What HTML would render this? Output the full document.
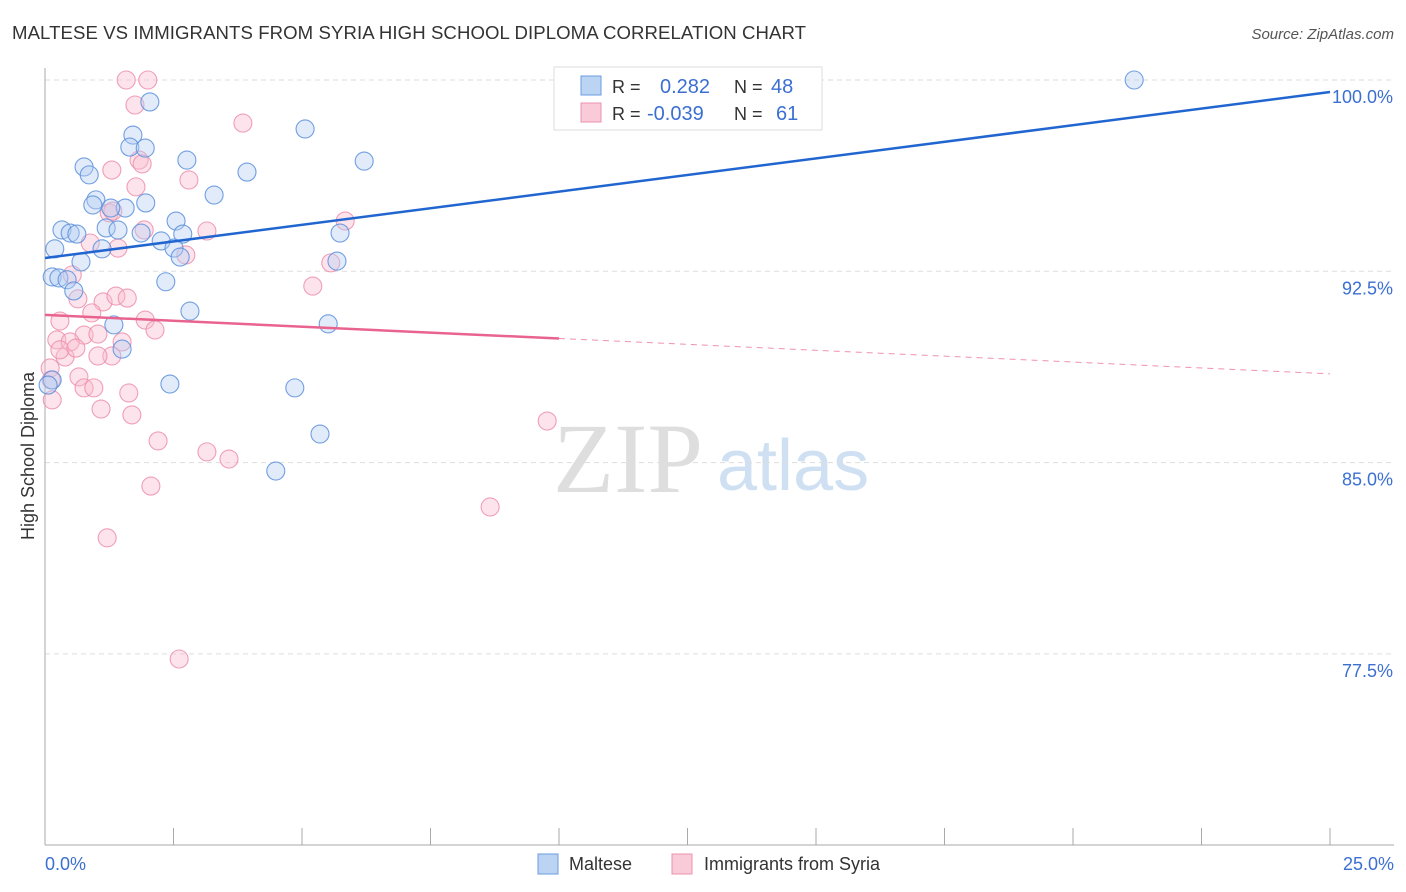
<!DOCTYPE html>
<html><head><meta charset="utf-8"><style>
body{margin:0;background:#fff;font-family:"Liberation Sans",sans-serif;}
svg{display:block}
</style></head><body>
<svg id="chart" width="1406" height="892">
<text x="12" y="39" font-size="18.6" fill="#333" textLength="794">MALTESE VS IMMIGRANTS FROM SYRIA HIGH SCHOOL DIPLOMA CORRELATION CHART</text>
<text x="1394" y="39" font-size="15" fill="#555" font-style="italic" text-anchor="end">Source: ZipAtlas.com</text>
<g>
<text x="553" y="492" font-size="100" fill="#dedede" font-family="Liberation Serif,serif">ZIP</text>
<text x="717" y="490" font-size="72" fill="#cfe0f3">atlas</text>
</g>
<g id="grid"></g><g id="axes"></g><g id="marks"></g>
<text transform="translate(34,456) rotate(-90)" font-size="18" fill="#333" text-anchor="middle">High School Diploma</text>
<g>
<rect x="554" y="67" width="268" height="63" fill="#fff" stroke="#ddd"/>
<rect x="581" y="76" width="20" height="19" fill="#bcd4f4" stroke="#6a9be0"/>
<rect x="581" y="103" width="20" height="19" fill="#f9cbd9" stroke="#ec93ae"/>
<text x="612" y="93" font-size="18" fill="#333">R = </text><text x="660" y="93" font-size="20" fill="#3b6fd1">0.282</text>
<text x="734" y="93" font-size="18" fill="#333">N = </text><text x="771" y="93" font-size="20" fill="#3b6fd1">48</text>
<text x="612" y="120" font-size="18" fill="#333">R = </text><text x="647" y="120" font-size="20" fill="#3b6fd1">-0.039</text>
<text x="734" y="120" font-size="18" fill="#333">N = </text><text x="776" y="120" font-size="20" fill="#3b6fd1">61</text>
</g>
<g>
<rect x="538" y="854" width="20" height="20" fill="#bcd4f4" stroke="#6a9be0"/>
<text x="569" y="870" font-size="18" fill="#333">Maltese</text>
<rect x="672" y="854" width="20" height="20" fill="#f9cbd9" stroke="#ec93ae"/>
<text x="704" y="870" font-size="18" fill="#333">Immigrants from Syria</text>
</g>
</svg>
<script>
const yTicks=[100,92.5,85,77.5];
const yTickLabels=["100.0%","92.5%","85.0%","77.5%"];
const xTicks=[0,2.5,5,7.5,10,12.5,15,17.5,20,22.5,25];
const xEndLabels=["0.0%","25.0%"];
const malteseX=[2.04,1.71,5.06,1.65,1.95,2.76,6.21,0.76,0.86,3.93,3.29,0.99,0.93,1.96,1.56,1.28,0.33,0.49,0.62,1.19,1.42,1.87,2.55,2.26,2.68,2.51,2.63,5.74,0.19,1.11,0.70,5.68,0.14,0.27,0.43,2.35,0.56,2.82,1.34,5.51,1.50,2.43,4.86,5.35,4.49,21.19,0.14,0.06];
const malteseY=[99.14,97.84,98.08,97.37,97.33,96.86,96.82,96.59,96.28,96.39,95.49,95.30,95.10,95.18,94.98,94.98,94.12,94.00,93.96,94.20,94.12,94.00,94.47,93.69,93.96,93.41,93.06,94.00,93.38,93.38,92.87,92.90,92.28,92.24,92.17,92.09,91.73,90.94,90.40,90.44,89.45,88.08,87.93,86.12,84.67,100.0,88.24,88.04];
const syriaX=[1.58,2.00,1.75,3.85,1.83,1.89,1.30,2.80,1.77,3.15,5.84,1.93,1.25,1.32,0.88,1.42,2.74,5.56,5.21,0.53,0.64,1.13,1.38,1.60,0.29,0.91,1.95,2.14,0.76,0.23,0.49,1.03,1.50,1.30,1.03,0.39,0.29,0.60,0.10,0.66,0.76,0.95,0.14,1.09,1.63,1.69,2.20,3.15,3.58,2.06,8.66,9.77,1.21,2.61,0.12];
const syriaY=[100,100,99.02,98.31,96.86,96.71,96.47,96.08,95.81,94.08,94.47,94.12,94.79,94.86,93.61,93.41,93.14,92.83,91.92,92.36,91.42,91.30,91.53,91.45,90.55,90.87,90.59,90.20,90.00,89.81,89.73,90.04,89.73,89.18,89.18,89.14,89.42,89.49,88.71,88.36,87.93,87.93,87.46,87.10,87.73,86.87,85.85,85.42,85.14,84.08,83.26,86.63,82.05,77.30,88.24];
const maltTrend=[93.02,0.2604];
const syriaTrend=[90.79,-0.0924];
const syriaSolidEnd=10;

const X0=45,X1=1330,Y100=80,PX=191.3/7.5;
const sx=v=>X0+(v/25)*(X1-X0);
const sy=v=>Y100+(100-v)*PX;
const NS="http://www.w3.org/2000/svg";
function mk(tag,attrs,parent){const e=document.createElementNS(NS,tag);for(const k in attrs)e.setAttribute(k,attrs[k]);parent.appendChild(e);return e;}
const grid=document.getElementById('grid'),axes=document.getElementById('axes'),marks=document.getElementById('marks');
yTicks.forEach((t,i)=>{
 const l=mk('line',{x1:X0,x2:1394,y1:sy(t),y2:sy(t),stroke:'#ddd','stroke-dasharray':'5,4'},grid);
 
 
 const tx=mk('text',{x:1393,y:sy(t)+23,'font-size':18,fill:'#3b6fd1','text-anchor':'end'},axes);
 tx.textContent=yTickLabels[i];
 
 
});
const ya=mk('line',{x1:X0,x2:X0,y1:68,y2:845,stroke:'#aaa'},axes);


const xa=mk('line',{x1:X0,x2:1394,y1:845,y2:845,stroke:'#aaa'},axes);


xTicks.forEach(t=>{
 const l=mk('line',{x1:sx(t),x2:sx(t),y1:828,y2:845,stroke:'#aaa'},axes);
 
 
});
[[0,'start',45],[25,'end',1394]].forEach((d,i)=>{
 const tx=mk('text',{x:d[2],y:870,'font-size':18,fill:'#3b6fd1','text-anchor':d[1]},axes);
 tx.textContent=xEndLabels[i];
 
 
});
function dots(xs,ys,fill,stroke,name){
 xs.forEach((x,i)=>{
  const c=mk('circle',{cx:sx(x),cy:sy(ys[i]),r:9,fill:fill,'fill-opacity':0.4,stroke:stroke,'stroke-width':1.1,'stroke-opacity':0.85},marks);
  
  
 });
}
dots(syriaX,syriaY,'#f9bcd0','#ec8fab','syria-point');
dots(malteseX,malteseY,'#b3cdf2','#5b8fdc','maltese-point');
const bt=mk('line',{x1:sx(0),y1:sy(maltTrend[0]),x2:sx(25),y2:sy(maltTrend[0]+25*maltTrend[1]),stroke:'#2166d0','stroke-width':2.5},marks);


const pt=mk('line',{x1:sx(0),y1:sy(syriaTrend[0]),x2:sx(syriaSolidEnd),y2:sy(syriaTrend[0]+syriaSolidEnd*syriaTrend[1]),stroke:'#e9638f','stroke-width':2.5},marks);


const pd=mk('line',{x1:sx(syriaSolidEnd),y1:sy(syriaTrend[0]+syriaSolidEnd*syriaTrend[1]),x2:sx(25),y2:sy(syriaTrend[0]+25*syriaTrend[1]),stroke:'#e9638f','stroke-width':1,'stroke-dasharray':'6,5','stroke-opacity':0.7},marks);


</script>
</body></html>
